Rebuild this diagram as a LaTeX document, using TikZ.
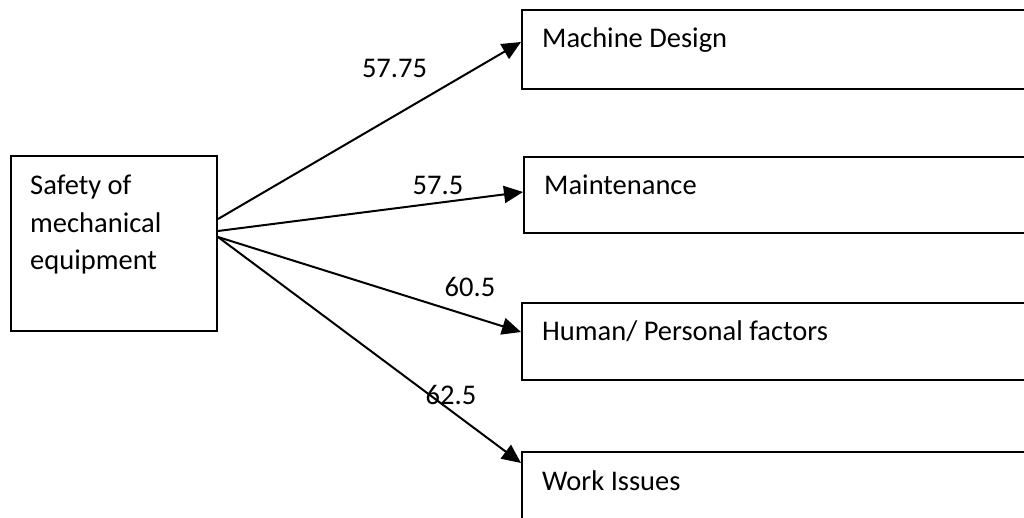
\documentclass[tikz,border=0pt]{standalone}
\usepackage{fontspec}
\setmainfont{Carlito}
\usetikzlibrary{calc,positioning,arrows.meta}

\begin{document}
\begin{tikzpicture}[x=1pt,y=-1pt,>={Triangle[length=19pt,width=17pt]},
  box/.style={draw,line width=2pt,rectangle,anchor=north west,inner sep=0pt},
  txt/.style={anchor=base west,inner sep=0pt,align=left,font=\fontsize{28.5}{37.5}\selectfont},
  val/.style={anchor=base,inner sep=0pt,font=\fontsize{28.5}{37.5}\selectfont}]
  \useasboundingbox (0,0) rectangle (1024,518);
  \clip (0,0) rectangle (1024,518);
  % boxes
  \node[box,minimum width=206pt,minimum height=175pt] (Safety) at (10,155) {};
  \node[box,minimum width=560pt,minimum height=79pt] (MachineDesign) at (521,9) {};
  \node[box,minimum width=560pt,minimum height=76pt] (Maintenance) at (523,156) {};
  \node[box,minimum width=560pt,minimum height=77pt] (Human) at (521,302) {};
  \node[box,minimum width=560pt,minimum height=79pt] (Work) at (521,451) {};
  % texts
  \node[txt,anchor=north west] (Safety_text) at (30,175) {Safety of\\mechanical\\equipment};
  \node[txt] (MachineDesign_text) at ($(MachineDesign.north west)+(21,39)$) {Machine Design};
  \node[txt] (Maintenance_text) at ($(Maintenance.north west)+(21,39)$) {Maintenance};
  \node[txt] (Human_text) at ($(Human.north west)+(21,38)$) {Human/ Personal factors};
  \node[txt] (Work_text) at ($(Work.north west)+(21,39)$) {Work Issues};
  %
  \draw[->,line width=2pt] ($(Safety.north east)+(0,64)$) -- ($(MachineDesign.north west)+(0,33)$);
  \draw[->,line width=2pt] ($(Safety.north east)+(0,76)$) -- ($(Maintenance.north west)+(0,36)$);
  \draw[->,line width=2pt] ($(Safety.north east)+(0,82)$) -- ($(Human.north west)+(0,30)$);
  \draw[->,line width=2pt] ($(Safety.north east)+(0,82)$) -- ($(Work.north west)+(0,12)$);
  % values
  \node[val] (v1) at (394.5,78) {57.75};
  \node[val] (v2) at (438,195) {57.5};
  \node[val] (v3) at (470,297) {60.5};
  \node[val] (v4) at (451,404) {62.5};
\end{tikzpicture}
\end{document}
